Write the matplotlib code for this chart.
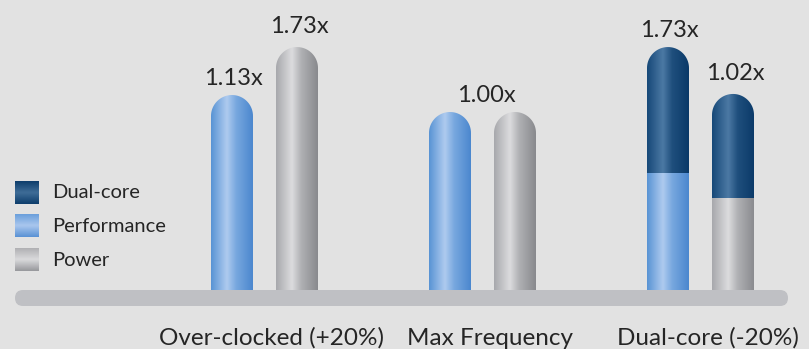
import numpy as np
import matplotlib
matplotlib.use("Agg")
import matplotlib.pyplot as plt
from matplotlib.path import Path
from matplotlib.patches import PathPatch, FancyBboxPatch
from matplotlib.colors import LinearSegmentedColormap

# ---------------- data ----------------
categories = ["Over-clocked (+20%)", "Max Frequency", "Dual-core (-20%)"]
# visual bar heights (relative units, Max Frequency = 1.0)
perf_height = [1.096, 1.000, 0.655]
power_height = [1.367, 1.000, 0.514]
dual_perf_extra = [0.0, 0.0, 0.712]
dual_power_extra = [0.0, 0.0, 0.588]
perf_labels = ["1.13x", "", "1.73x"]
power_labels = ["1.73x", "", "1.02x"]
group_labels = ["", "1.00x", ""]
legend_labels = ["Dual-core", "Performance", "Power"]

FONT = ["Lato", "DejaVu Sans"]
TXT = "#252525"
BG = "#e2e2e2"

cm_perf = LinearSegmentedColormap.from_list(
    "perf", [(0, "#5893d4"), (0.38, "#afcbef"), (0.6, "#78a8df"), (1, "#4b87ce")])
cm_power = LinearSegmentedColormap.from_list(
    "power", [(0, "#a7a8ac"), (0.38, "#dcdcde"), (0.6, "#b0b1b4"), (1, "#88898d")])
cm_dual = LinearSegmentedColormap.from_list(
    "dual", [(0, "#164878"), (0.38, "#4c79a4"), (0.6, "#1f4f7d"), (1, "#0a3968")])

W, H = 809, 349
fig = plt.figure(figsize=(W / 100, H / 100), dpi=100)
fig.patch.set_facecolor(BG)

ax = fig.add_axes([0, 0, 1, 1])
ax.set_facecolor("none")
ax.axis("off")
xlim = (-264.5 / 218, (W - 264.5) / 218)
ylim = (-60 / 177, (H - 60) / 177)
ax.set_xlim(*xlim)
ax.set_ylim(*ylim)

bar_w = 42 / 218
offset = 32.5 / 218

p0 = ax.transData.transform((0, 0))
p1 = ax.transData.transform((1, 1))
px_x = p1[0] - p0[0]
px_y = p1[1] - p0[1]
ry = (bar_w * px_x / 2) / px_y


def pill_path(xc, bottom, top):
    x0, x1 = xc - bar_w / 2, xc + bar_w / 2
    t = np.linspace(0, np.pi, 40)
    arc_x = xc + (bar_w / 2) * np.cos(t)
    arc_y = (top - ry) + ry * np.sin(t)
    xs = np.concatenate([[x0, x1], [x1], arc_x, [x0], [x0]])
    ys = np.concatenate([[bottom, bottom], [top - ry], arc_y, [top - ry], [bottom]])
    verts = np.column_stack([xs, ys])
    return Path(verts, closed=True)


def draw_bar(xc, segments):
    bottom = -0.03
    top = segments[-1][1]
    clip = PathPatch(pill_path(xc, bottom, top), facecolor="none",
                     edgecolor="none", transform=ax.transData)
    ax.add_patch(clip)
    grad = np.linspace(0, 1, 256).reshape(1, -1)
    prev = bottom
    for seg_cmap, seg_top in segments:
        im = ax.imshow(grad, cmap=seg_cmap, aspect="auto", interpolation="bicubic",
                       extent=[xc - bar_w / 2, xc + bar_w / 2, prev, seg_top],
                       zorder=2)
        im.set_clip_path(clip)
        prev = seg_top


for i, cat in enumerate(categories):
    xp = i - offset
    xw = i + offset
    segs_p = [(cm_perf, perf_height[i])]
    if dual_perf_extra[i] > 0:
        segs_p.append((cm_dual, perf_height[i] + dual_perf_extra[i]))
    segs_w = [(cm_power, power_height[i])]
    if dual_power_extra[i] > 0:
        segs_w.append((cm_dual, power_height[i] + dual_power_extra[i]))
    draw_bar(xp, segs_p)
    draw_bar(xw, segs_w)
    tp = segs_p[-1][1]
    tw = segs_w[-1][1]
    if perf_labels[i]:
        ax.annotate(perf_labels[i], (xp, tp), xytext=(1, 10), textcoords="offset pixels",
                    ha="center", va="baseline", fontsize=17, color=TXT, family=FONT)
    if power_labels[i]:
        ax.annotate(power_labels[i], (xw, tw), xytext=(2, 14), textcoords="offset pixels",
                    ha="center", va="baseline", fontsize=17, color=TXT, family=FONT)
    if group_labels[i]:
        ax.annotate(group_labels[i], (i, max(tp, tw)), xytext=(4, 10), textcoords="offset pixels",
                    ha="center", va="baseline", fontsize=17, color=TXT, family=FONT)
    ax.annotate(cat, (i, 0), xytext=(7, -56), textcoords="offset pixels",
                ha="center", va="baseline", fontsize=17.5, color=TXT, family=FONT)

ax.set_xlim(*xlim)
ax.set_ylim(*ylim)

# ---------------- decorations in pixel space ----------------
deco = fig.add_axes([0, 0, 1, 1])
deco.set_facecolor("none")
deco.axis("off")
deco.set_xlim(0, W)
deco.set_ylim(H, 0)

# baseline pill
deco.add_patch(FancyBboxPatch((15, 290), 773, 16,
                              boxstyle="round,pad=0,rounding_size=8",
                              facecolor="#bfc0c4", edgecolor="none", zorder=5))

# legend
leg_cmaps = [
    LinearSegmentedColormap.from_list("ld", ["#0d3d6b", "#3f6d98", "#0d3d6b"]),
    LinearSegmentedColormap.from_list("lp", ["#6a9fdb", "#aac7ee", "#5891d4"]),
    LinearSegmentedColormap.from_list("lw", ["#b0b0b3", "#dadadc", "#96979b"]),
]
leg_tops = [181, 214, 248]
vgrad = np.linspace(0, 1, 128).reshape(-1, 1)
for lab, cm, yt in zip(legend_labels, leg_cmaps, leg_tops):
    deco.imshow(vgrad, cmap=cm, aspect="auto", interpolation="bicubic",
                extent=[15, 39, yt + 23, yt], zorder=5)
    deco.text(52, yt + 12, lab, ha="left", va="center", fontsize=14.5,
              color=TXT, family=FONT)
deco.set_xlim(0, W)
deco.set_ylim(H, 0)

fig.savefig("out.png", dpi=100, facecolor=BG)
